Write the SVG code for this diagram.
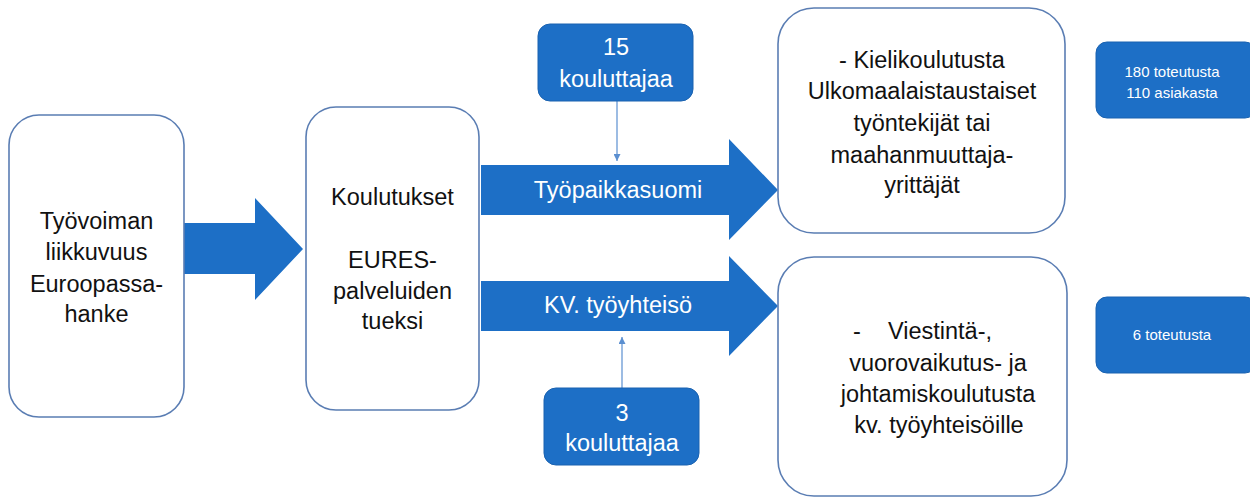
<svg xmlns="http://www.w3.org/2000/svg" width="1250" height="498" viewBox="0 0 1250 498">
<defs>
<style>
.box{fill:#ffffff;stroke:#5a7db3;stroke-width:1.6}
.bbox{fill:#1d6fc6;stroke:#1a62b0;stroke-width:1}
.arrow{fill:#1d6fc6}
.t{font-family:"Liberation Sans",Arial,sans-serif;font-size:23.5px;fill:#111;text-anchor:middle}
.w{font-family:"Liberation Sans",Arial,sans-serif;font-size:23.5px;fill:#ffffff;text-anchor:middle}
.s{font-family:"Liberation Sans",Arial,sans-serif;font-size:15px;fill:#ffffff;text-anchor:middle}
.conn{stroke:#5b8fd0;stroke-width:1.2;fill:none}
</style>
<marker id="ah" viewBox="0 0 10 10" refX="10" refY="5" markerWidth="7" markerHeight="7" markerUnits="userSpaceOnUse" orient="auto">
<path d="M0,0 L10,5 L0,10 Z" fill="#5b8fd0"/>
</marker>
</defs>

<g id="connectors">
<path class="arrow" d="M184,223 L255,223 L255,198 L303,249 L255,300 L255,274 L184,274 Z"/>
<path class="arrow" d="M481,165 L729,165 L729,139 L778,190 L729,240 L729,215 L481,215 Z"/>
<path class="arrow" d="M481,281 L729,281 L729,256 L778,306 L729,356 L729,331 L481,331 Z"/>
<line class="conn" x1="617" y1="101" x2="617" y2="161" marker-end="url(#ah)"/>
<line class="conn" x1="622" y1="388" x2="622" y2="337" marker-end="url(#ah)"/>
<text class="w" x="618" y="198">Työpaikkasuomi</text>
<text class="w" x="618" y="313">KV. työyhteisö</text>
</g>

<g id="node-tyovoiman">
<rect class="box" x="9" y="115" width="175" height="302" rx="30"/>
<text class="t" x="96.5" y="229">Työvoiman</text>
<text class="t" x="96.5" y="260">liikkuvuus</text>
<text class="t" x="96.5" y="292">Euroopassa-</text>
<text class="t" x="96.5" y="322">hanke</text>
</g>

<g id="node-koulutukset">
<rect class="box" x="306" y="107" width="173" height="303" rx="30"/>
<text class="t" x="392.5" y="205">Koulutukset</text>
<text class="t" x="392.5" y="268">EURES-</text>
<text class="t" x="392.5" y="299">palveluiden</text>
<text class="t" x="392.5" y="329">tueksi</text>
</g>

<g id="node-15">
<rect class="bbox" x="538" y="24" width="155" height="77" rx="12"/>
<text class="w" x="616" y="55">15</text>
<text class="w" x="616" y="87">kouluttajaa</text>
</g>

<g id="node-3">
<rect class="bbox" x="544" y="388" width="155" height="77" rx="12"/>
<text class="w" x="622" y="421">3</text>
<text class="w" x="622" y="451">kouluttajaa</text>
</g>

<g id="node-kieli">
<rect class="box" x="778" y="8" width="287" height="225" rx="36"/>
<text class="t" x="922" y="68">- Kielikoulutusta</text>
<text class="t" x="922" y="99">Ulkomaalaistaustaiset</text>
<text class="t" x="922" y="131">työntekijät tai</text>
<text class="t" x="922" y="163">maahanmuuttaja-</text>
<text class="t" x="922" y="193">yrittäjät</text>
</g>

<g id="node-viestinta">
<rect class="box" x="778" y="257" width="289" height="239" rx="36"/>
<text class="t" x="857" y="339">-</text>
<text class="t" x="940" y="339">Viestintä-,</text>
<text class="t" x="938" y="371">vuorovaikutus- ja</text>
<text class="t" x="938" y="402">johtamiskoulutusta</text>
<text class="t" x="939" y="433">kv. työyhteisöille</text>
</g>

<g id="node-180">
<rect class="bbox" x="1096" y="42" width="160" height="76" rx="11"/>
<text class="s" x="1172" y="77">180 toteutusta</text>
<text class="s" x="1172" y="98">110 asiakasta</text>
</g>

<g id="node-6">
<rect class="bbox" x="1096" y="297" width="160" height="76" rx="11"/>
<text class="s" x="1172" y="340">6 toteutusta</text>
</g>
</svg>
